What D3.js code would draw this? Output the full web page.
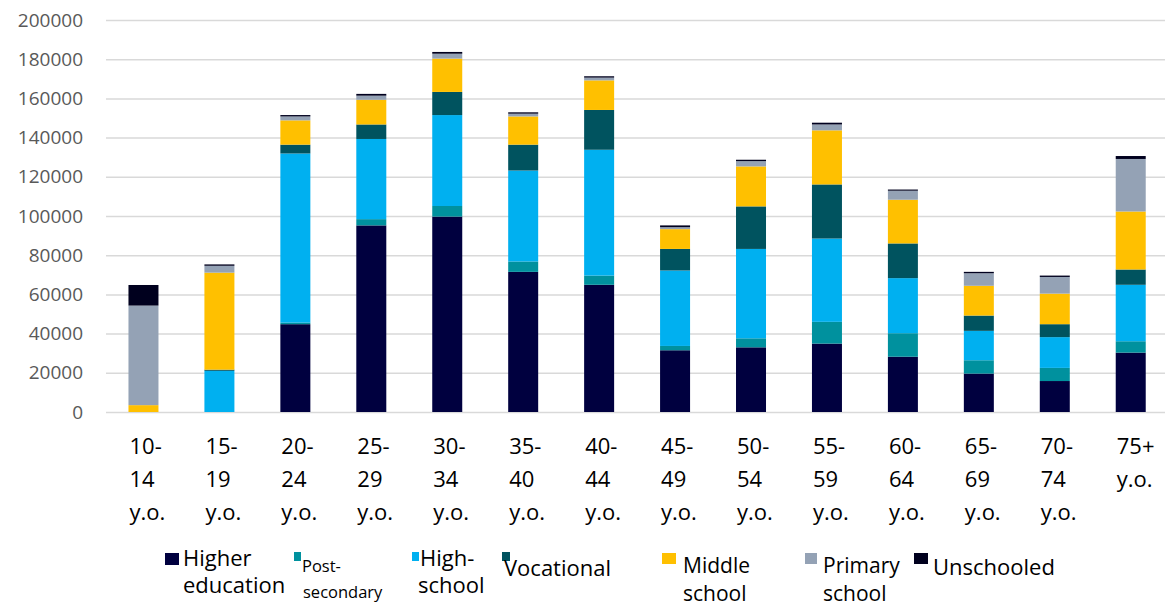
<!DOCTYPE html>
<html>
<head>
<meta charset="utf-8">
<script src="https://cdn.jsdelivr.net/npm/d3@7"></script>
<style>
  html, body { margin: 0; padding: 0; background: #fff; }
  svg { display: block; font-family: "Open Sans", sans-serif; }
</style>
</head>
<body>
<svg id="chart" width="1165" height="608"></svg>
<script>
// ---- data ----
const categories = ["10-14 y.o.", "15-19 y.o.", "20-24 y.o.", "25-29 y.o.", "30-34 y.o.", "35-40 y.o.", "40-44 y.o.",
                    "45-49 y.o.", "50-54 y.o.", "55-59 y.o.", "60-64 y.o.", "65-69 y.o.", "70-74 y.o.", "75+ y.o."];
const seriesNames = ["Higher education", "Post-secondary", "High-school", "Vocational", "Middle school", "Primary school", "Unschooled"];
const higherEducation = [0, 0, 44800, 95200, 99700, 71500, 64900, 31500, 33000, 34900, 28200, 19600, 15800, 30300];
const postSecondary   = [0, 0, 800, 3200, 5400, 5300, 4700, 2200, 4600, 11100, 12000, 6800, 6700, 5800];
const highSchool      = [0, 21000, 86300, 40900, 46400, 46400, 64200, 38500, 45600, 42500, 28100, 15000, 15700, 28800];
const vocational      = [0, 600, 4500, 7400, 11800, 13200, 20300, 11000, 21700, 27600, 17700, 7800, 6600, 7800];
const middleSchool    = [3500, 49500, 12400, 12600, 17000, 14400, 15100, 10100, 20400, 27600, 22300, 15200, 15600, 29600];
const primarySchool   = [50800, 3500, 2000, 2100, 2500, 1400, 1400, 1000, 2700, 3000, 4600, 6400, 8500, 26800];
const unschooled      = [10500, 700, 700, 900, 900, 700, 700, 900, 700, 900, 600, 700, 700, 1500];
const yTicks = [0, 20000, 40000, 60000, 80000, 100000, 120000, 140000, 160000, 180000, 200000];

// ---- styles ----
const colors = ["#00003F", "#00919E", "#00B0F0", "#00535F", "#FFC000", "#94A2B5", "#00001E"];
const seriesValues = [higherEducation, postSecondary, highSchool, vocational, middleSchool, primarySchool, unschooled];

const table = categories.map((c, i) => {
  const row = { cat: c };
  seriesNames.forEach((s, j) => { row[s] = seriesValues[j][i]; });
  return row;
});

const svg = d3.select("#chart");
const x = d3.scaleBand().domain(categories).range([105.5, 1168.7]).paddingInner(0.605).paddingOuter(0.3025);
const y = d3.scaleLinear().domain([0, 200000]).range([412, 20]);

// y axis + gridlines
const yAxis = d3.axisLeft(y).tickValues(yTicks).tickSize(-1060).tickPadding(23).tickFormat(d3.format("d"));
const gy = svg.append("g").attr("transform", "translate(106,0)").call(yAxis);
gy.select(".domain").remove();
gy.selectAll(".tick line").attr("stroke", "#D9D9D9").attr("stroke-width", 1.5);
gy.selectAll(".tick text").attr("fill", "#595959").style("font-size", "19px").style("font-family", "'Open Sans', sans-serif");

// stacked bars
const stack = d3.stack().keys(seriesNames)(table);
svg.append("g").selectAll("g").data(stack).join("g")
  .attr("fill", (d, i) => colors[i])
  .selectAll("rect").data(d => d).join("rect")
  .attr("x", d => x(d.data.cat))
  .attr("width", x.bandwidth())
  .attr("y", d => y(d[1]))
  .attr("height", d => Math.max(0, y(d[0]) - y(d[1])));

// x labels (wrapped, left-aligned block)
const xl = svg.append("g");
categories.forEach(c => {
  const parts = c.split(" ");
  const age = parts[0];
  const lines = age.includes("-") ? [age.split("-")[0] + "-", age.split("-")[1], parts[1]] : [age, parts[1]];
  const t = xl.append("text")
    .attr("x", x(c) + x.bandwidth() / 2 - 14)
    .attr("y", 454)
    .attr("fill", "#000")
    .style("font-size", "22px");
  lines.forEach((ln, k) => {
    t.append("tspan").attr("x", x(c) + x.bandwidth() / 2 - 14).attr("y", 454 + k * 33).text(ln);
  });
});

// legend
const legendLayout = [
  { sq: [165, 553, 14, 12], lines: [["Higher", 183, 566], ["education", 183, 593]], fs: 22 },
  { sq: [294, 552, 7, 9], lines: [["Post-", 302, 572], ["secondary", 303, 598]], fs: 16.5 },
  { sq: [412, 552, 7, 9], lines: [["High-", 420, 566], ["school", 418, 593]], fs: 22 },
  { sq: [502, 552, 8, 9], lines: [["Vocational", 504, 576]], fs: 22 },
  { sq: [662, 553, 14, 11], lines: [["Middle", 683, 573], ["school", 683, 601]], fs: 21 },
  { sq: [805, 553, 12, 11], lines: [["Primary", 823, 573], ["school", 823, 601]], fs: 21 },
  { sq: [914, 553, 14, 11], lines: [["Unschooled", 933, 575]], fs: 22 }
];
const lg = svg.append("g");
seriesNames.forEach((s, i) => {
  const L = legendLayout[i];
  lg.append("rect").attr("x", L.sq[0]).attr("y", L.sq[1]).attr("width", L.sq[2]).attr("height", L.sq[3]).attr("fill", colors[i]);
  L.lines.forEach(([txt, lx, ly]) => {
    lg.append("text").attr("fill", "#000").style("font-size", L.fs + "px").attr("x", lx).attr("y", ly).text(txt);
  });
});
</script>
</body>
</html>
